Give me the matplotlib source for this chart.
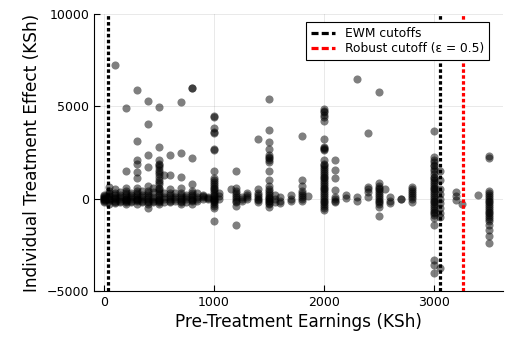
import matplotlib
matplotlib.use("Agg")
import matplotlib.pyplot as plt
from matplotlib.lines import Line2D

# ---- Data ----
# pre-treatment earnings levels (KSh) and the treatment effects seen at each level
earn_levels = [0, 50, 100, 150, 200, 250, 300, 350, 400, 450, 500, 550, 600, 650,
               700, 750, 800, 850, 900, 950, 1000, 1050, 1150, 1200, 1250, 1300,
               1400, 1500, 1550, 1600, 1700, 1800, 1850, 2000, 2100, 2200, 2300,
               2400, 2500, 2550, 2600, 2700, 2800, 3000, 3050, 3200, 3250, 3400, 3500]

effects = [
    [0, -100, 100, 200, -200, 50, 0, -50, 150],
    [650, 300, 0, -150, -300, 150, 400, 50, -50, 250],
    [7250, 300, 100, -100, -250, 0, 500, 200, -200, 50],
    [200, 0, -200, 350, 100, -100],
    [4900, 1500, 600, 400, 200, 0, -100, -300, 100, -200, 300, 0, -50],
    [300, 100, -100, 0, 200, -200],
    [5900, 3100, 2100, 1900, 1450, 1100, 600, 400, 200, 0, -150, -300, 100, 300, -50, 0],
    [400, 100, -100, 200, 0, -200],
    [5300, 4050, 2350, 1700, 700, 400, 200, 0, -200, -300, -500, 100, -100, 300],
    [350, 100, -100, 600, 0, -200],
    [4950, 2800, 2100, 1900, 1700, 1550, 1350, 1200, 1000, 800, 600, 400, 200, 0, -150,
     -300, 1800, 1450, 900, 500, 300, 100, -50, -200],
    [1300, 300, 0, -200, 100],
    [2350, 1300, 500, 300, 100, 0, -200, 200, -100],
    [300, 100, -100, 0],
    [5250, 2450, 1150, 600, 300, 100, -100, -300, 0, 200, -200],
    [200, 0, -200, 100],
    [6000, 6000, 2200, 800, 400, 200, 0, -150, -300, 100, -50, 300],
    [300, 100, -100, 0],
    [200, 0, 100, 150],
    [100, 0, 50],
    [4450, 4400, 3850, 3600, 3550, 2700, 2650, 1500, 1100, 900, 700, 500, 300, 150, 0,
     -150, -300, -500, -1200, 600, 400, 200, 50, -50, -200, -400, 800, 1000],
    [300, 0, 150],
    [550],
    [1500, 600, 400, 200, 0, -200, -400, -1400, 300, 100, -100],
    [100, 0, -100],
    [300, 100, 0, 200],
    [3250, 500, 300, 100, -50, -200, 0, 200],
    [5400, 3700, 3050, 2700, 2350, 2200, 2000, 1500, 1000, 700, 500, 300, 100, 0, -150,
     -300, -450, 2250, 2100, 400, 200, 50, -100, -250],
    [200, 0, -200],
    [100, -100, -250],
    [200, 0, -100],
    [3400, 1000, 700, 400, 200, 0, -100, 100, 300],
    [150],
    [4850, 4700, 4550, 4400, 4200, 3250, 2800, 2700, 2650, 2100, 1800, 1600, 1400, 1200,
     1000, 800, 600, 400, 200, 0, -200, -400, -600, 1900, 1700, 1500, 1300, 1100, 900,
     700, 500, 300, 100, -100, -300, -500, 4750, 2750],
    [2100, 1550, 1100, 450, 100, -100, -200, 0],
    [200, 50],
    [6500, 100, -100],
    [3550, 650, 350, 100, 500],
    [5750, 850, 600, 400, 200, 0, -200, -450, -950, 700, 500, 300, 100, -100, -300],
    [550],
    [100, -100, -250],
    [0, 0],
    [650, 400, 200, 0, -200, 500, 300, 100],
    [3650, 2250, 2000, 1750, 1500, 1200, 1000, 800, 600, 400, 200, 0, -200, -400, -600,
     -800, -1050, -1400, -3300, -3600, -4050, 2100, 1850, 1600, 1350, 1100, 900, 700,
     500, 300, 100, -100, -300, -500, -700, -900],
    [500, 0, -500, -1000, -3750, 1500, 1000, 250, -250, -750],
    [350, 150, -50],
    [-300],
    [200],
    [2300, 2200, 400, 200, 0, -200, -400, -600, -800, -1000, -1200, -1400, -1700, -2000,
     -2400, 300, 100, -100, -300, -500, -700, -900, -1100],
]

ewm_cutoffs = [40, 3050]
robust_cutoff = 3260

# ---- Build scatter points ----
xs = []
ys = []
for level, vals in zip(earn_levels, effects):
    for v in vals:
        xs.append(level)
        ys.append(v)

fig = plt.figure(figsize=(5.15, 3.44), dpi=100)
ax = fig.add_axes([0.1825, 0.154, 0.7942, 0.8053])

ax.scatter(xs, ys, s=34, color="black", alpha=0.5, linewidths=0, zorder=2)

dash = (0, (1.1, 0.75))
for c in ewm_cutoffs:
    ax.axvline(c, color="black", lw=2.3, linestyle=dash, zorder=3)
ax.axvline(robust_cutoff, color="red", lw=2.3, linestyle=dash, zorder=3)

ax.set_xlim(-90, 3625)
ax.set_ylim(-5000, 10000)
ax.set_xticks([0, 1000, 2000, 3000])
ax.set_yticks([-5000, 0, 5000, 10000])
ax.set_yticklabels(["\u22125000", "0", "5000", "10000"])
ax.tick_params(direction="in", labelsize=9, length=4, width=0.8)

ax.grid(True, color="black", alpha=0.1, lw=0.6)
ax.set_axisbelow(True)
for side in ["top", "right"]:
    ax.spines[side].set_visible(False)

ax.set_xlabel("Pre-Treatment Earnings (KSh)", fontsize=12.2, labelpad=3)
ax.set_ylabel("Individual Treatment Effect (KSh)", fontsize=12.2, labelpad=4)

# legend keys drawn with longer dashes, like the original
leg_dash = (0, (2.2, 1.0))
handles = [Line2D([], [], color="black", lw=2.3, linestyle=leg_dash),
           Line2D([], [], color="red", lw=2.3, linestyle=leg_dash)]
labels = ["EWM cutoffs", "Robust cutoff (ε = 0.5)"]
leg = ax.legend(handles, labels, loc="upper right", bbox_to_anchor=(0.966, 0.971),
                borderaxespad=0, fontsize=8.8, frameon=True, fancybox=False,
                framealpha=1, edgecolor="black", handlelength=2.0,
                borderpad=0.4, labelspacing=0.2)
leg.get_frame().set_linewidth(0.8)

fig.savefig("out.png", dpi=100)
